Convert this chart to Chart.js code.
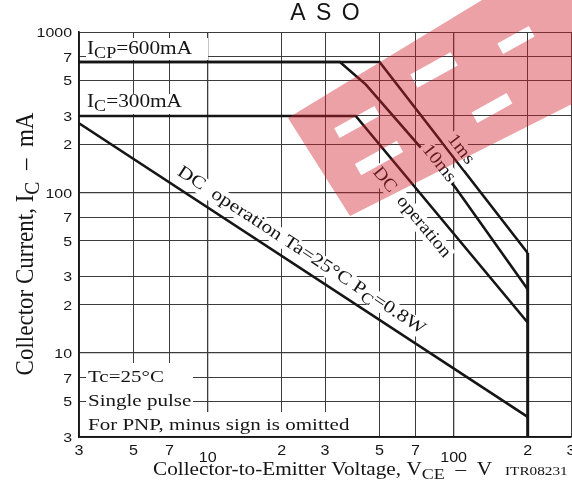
<!DOCTYPE html>
<html>
<head>
<meta charset="utf-8">
<title>ASO</title>
<script src="https://cdn.jsdelivr.net/npm/chart.js@4.4.1/dist/chart.umd.min.js"></script>
<style>
  html, body { margin: 0; padding: 0; background: #fff; }
  canvas { display: block; }
</style>
</head>
<body>
<canvas id="asoChart" width="572" height="495"></canvas>
<script>
// Curves: V = collector-to-emitter voltage, I = collector current (mA)
const PULSE_1MS_V = [3, 50, 200];
const PULSE_1MS_I = [650, 650, 42];
const PULSE_10MS_V = [3, 34.5, 44, 101, 200];
const PULSE_10MS_I = [650, 650, 470, 109, 25];
const DC_TC_V = [3, 40, 200];
const DC_TC_I = [300, 300, 15.5];
const DC_TA_V = [3, 200];
const DC_TA_I = [270, 4];
const VCEO_V = [200, 200];
const VCEO_I = [42, 3];

// Axis ticks
const X_TICKS = [3, 5, 7, 10, 20, 30, 50, 70, 100, 200, 300];
const X_LABELS = ['3', '5', '7', '10', '2', '3', '5', '7', '100', '2', '3'];
const Y_TICKS = [3, 5, 7, 10, 20, 30, 50, 70, 100, 200, 300, 500, 700, 1000];
const Y_LABELS = ['3', '5', '7', '10', '2', '3', '5', '7', '100', '2', '3', '5', '7', '1000'];

const SERIF = "'Liberation Serif', 'Times New Roman', serif";
const SANS = "'Liberation Sans', Arial, sans-serif";
const INK = '#151515';
const GRID = '#3c3c3c';

const pts = (vs, is) => vs.map((v, i) => ({ x: v, y: is[i] }));

function curve(label, vs, is, width) {
    return {
        label: label,
        data: pts(vs, is),
        showLine: true,
        borderColor: INK,
        borderWidth: width || 2.6,
        pointRadius: 0,
        fill: false,
        tension: 0,
        borderJoinStyle: 'miter',
    };
}

// text with optional subscripts: parts = [[text, isSub], ...]
function drawRich(ctx, parts, x, y, o) {
    const fam = o.family || SERIF;
    const size = o.size;
    const subSize = size * 0.85;
    ctx.save();
    ctx.translate(x, y);
    if (o.angle) ctx.rotate(o.angle);
    ctx.scale(o.sx || 1, o.sy || 1);
    ctx.textBaseline = 'alphabetic';
    ctx.textAlign = 'left';
    const widths = parts.map(([t, sub]) => {
        ctx.font = (sub ? subSize : size) + 'px ' + fam;
        return ctx.measureText(t).width;
    });
    const total = widths.reduce((s, w) => s + w, 0);
    let cx = o.align === 'center' ? -total / 2 : o.align === 'right' ? -total : 0;
    const dy = o.dy || 0;
    if (o.box) {
        ctx.fillStyle = '#fff';
        ctx.fillRect(cx - 2, dy - size * 0.74, total + 4, size * 1.0);
    }
    ctx.fillStyle = o.color || INK;
    parts.forEach(([t, sub], i) => {
        ctx.font = (sub ? subSize : size) + 'px ' + fam;
        ctx.fillText(t, cx, dy + (sub ? size * 0.24 : 0));
        cx += widths[i];
    });
    ctx.restore();
}

// labels that sit along the curves: centre point (V, mA) and the segment that gives the slope
const CURVE_LABELS = [
    { parts: [['DC  operation Ta=25\u00b0C P'], ['C', true], ['=0.8W']], at: [24.2, 44.3], seg: [[3, 270], [200, 4]], size: 18, sx: 1.19 },
    { parts: [['1ms']], at: [108, 188], seg: [[50, 650], [200, 42]], size: 18, sx: 1.1 },
    { parts: [['10ms']], at: [88, 154], seg: [[44, 470], [200, 25]], size: 18, sx: 1.1 },
    { parts: [['DC  operation']], at: [68.2, 76.2], seg: [[40, 300], [200, 15.5]], size: 18, sx: 1.1 },
];

// watermark stamped over the scan
function drawStamp(ctx) {
    const ang = -29 * Math.PI / 180;
    const c = Math.cos(ang), s = Math.sin(ang);
    const slot = (cx, cy, len, wid) => {
        const q = [[-len / 2, -wid / 2], [len / 2, -wid / 2], [len / 2, wid / 2], [-len / 2, wid / 2]]
            .map(([a, b]) => [cx + a * c - b * s, cy + a * s + b * c]);
        ctx.moveTo(q[0][0], q[0][1]);
        q.slice(1).forEach(p => ctx.lineTo(p[0], p[1]));
        ctx.closePath();
    };
    ctx.save();
    ctx.beginPath();
    [[288, 118], [482, 0], [572, 0], [572, 104], [350, 216]].forEach((p, i) => i ? ctx.lineTo(p[0], p[1]) : ctx.moveTo(p[0], p[1]));
    ctx.closePath();
    slot(357, 122, 46, 11);
    slot(379, 158, 48, 13);
    slot(434, 70, 46, 15);
    slot(516, 40, 36, 12);
    slot(492, 108, 40, 12);
    ctx.fillStyle = 'rgba(210, 30, 45, 0.42)';
    ctx.fill('evenodd');
    ctx.restore();
}

const asoDecor = {
    id: 'asoDecor',
    afterDatasetsDraw(chart) {
        const { ctx, chartArea: a, scales: { x, y } } = chart;
        ctx.save();

        // white patches behind the notes, hiding the grid
        ctx.fillStyle = '#fff';
        ctx.fillRect(a.left + 7, a.top + 6, 122, 22);
        ctx.fillRect(a.left + 7, a.top + 62, 102, 20);
        ctx.fillRect(a.left + 7, a.bottom - 74, 107, 49);
        ctx.fillRect(a.left + 7, a.bottom - 25, 269, 24);

        drawRich(ctx, [['I'], ['CP', true], ['=600mA']], a.left + 8, a.top + 22, { size: 18.5, sx: 1.15 });
        drawRich(ctx, [['I'], ['C', true], ['=300mA']], a.left + 8, a.top + 75, { size: 18.5, sx: 1.15 });
        drawRich(ctx, [['Tc=25\u00b0C']], a.left + 9, a.bottom - 55.5, { size: 17.5, sx: 1.2 });
        drawRich(ctx, [['Single pulse']], a.left + 9, a.bottom - 31, { size: 17.5, sx: 1.2 });
        drawRich(ctx, [['For PNP, minus sign is omitted']], a.left + 9, a.bottom - 7, { size: 17.5, sx: 1.2 });

        CURVE_LABELS.forEach(l => {
            const p0 = [x.getPixelForValue(l.seg[0][0]), y.getPixelForValue(l.seg[0][1])];
            const p1 = [x.getPixelForValue(l.seg[1][0]), y.getPixelForValue(l.seg[1][1])];
            const ang = Math.atan2(p1[1] - p0[1], p1[0] - p0[0]);
            drawRich(ctx, l.parts, x.getPixelForValue(l.at[0]), y.getPixelForValue(l.at[1]), {
                size: l.size, sx: l.sx, angle: ang, align: 'center', dy: l.size * 0.34, box: true,
            });
        });

        drawStamp(ctx);
        ctx.restore();
    },
    afterDraw(chart) {
        const { ctx, chartArea: a, scales: { x, y } } = chart;
        ctx.save();
        ctx.fillStyle = INK;

        // tick labels (decade numbers on the x axis sit a little lower)
        X_TICKS.forEach((v, i) => {
            const decade = v === 10 || v === 100;
            drawRich(ctx, [[X_LABELS[i]]], x.getPixelForValue(v), a.bottom + (decade ? 25 : 18),
                { size: 14, family: SANS, sx: 1.15, align: 'center' });
        });
        Y_TICKS.forEach((v, i) => {
            drawRich(ctx, [[Y_LABELS[i]]], a.left - 7, y.getPixelForValue(v) + 5,
                { size: 13.5, family: SANS, sx: 1.18, align: 'right' });
        });

        // title
        ctx.font = '23px ' + SANS;
        ctx.letterSpacing = '2px';
        ctx.textAlign = 'center';
        ctx.textBaseline = 'alphabetic';
        ctx.fillText('A S O', (a.left + a.right) / 2 + 1, 20);
        ctx.letterSpacing = '0px';

        // axis titles
        drawRich(ctx, [['Collector-to-Emitter Voltage, V'], ['CE', true], ['  \u2013  V']], 153, a.bottom + 38,
            { size: 18, sx: 1.18 });
        drawRich(ctx, [['ITR08231']], 505, a.bottom + 38, { size: 12.5, sx: 1.22 });
        drawRich(ctx, [['Collector Current, I'], ['C', true], ['  \u2013  mA']], 33, 244,
            { size: 23, sy: 1.1, angle: -Math.PI / 2, align: 'center' });
        ctx.restore();
    },
};

new Chart(document.getElementById('asoChart'), {
    type: 'scatter',
    data: {
        datasets: [
            curve('1 ms', PULSE_1MS_V, PULSE_1MS_I),
            curve('10 ms', PULSE_10MS_V, PULSE_10MS_I),
            curve('DC Tc=25°C', DC_TC_V, DC_TC_I),
            curve('DC Ta=25°C', DC_TA_V, DC_TA_I),
            curve('VCEO', VCEO_V, VCEO_I, 3),
        ]
    },
    options: {
        responsive: false,
        animation: false,
        devicePixelRatio: 1,
        layout: { padding: { top: 32, right: 1, left: 0, bottom: 0 } },
        plugins: {
            legend: { display: false },
            tooltip: { enabled: false },
        },
        scales: {
            x: {
                type: 'logarithmic',
                min: 3,
                max: 300,
                ticks: { display: false },
                grid: {
                    color: GRID,
                    lineWidth: c => (c.tick && (c.tick.value === 10 || c.tick.value === 100)) ? 1.3 : 1,
                    drawTicks: false,
                },
                border: { display: true, color: INK, width: 1.6 },
                afterBuildTicks: s => { s.ticks = X_TICKS.map(v => ({ value: v })); },
                afterFit: s => { s.height = 58; },
            },
            y: {
                type: 'logarithmic',
                min: 3,
                max: 1000,
                ticks: { display: false },
                grid: {
                    color: GRID,
                    lineWidth: c => (c.tick && [10, 100].includes(c.tick.value)) ? 1.3 : 1,
                    drawTicks: false,
                },
                border: { display: true, color: INK, width: 1.6 },
                afterBuildTicks: s => { s.ticks = Y_TICKS.map(v => ({ value: v })); },
                afterFit: s => { s.width = 79; },
            }
        }
    },
    plugins: [asoDecor]
});
</script>
</body>
</html>
